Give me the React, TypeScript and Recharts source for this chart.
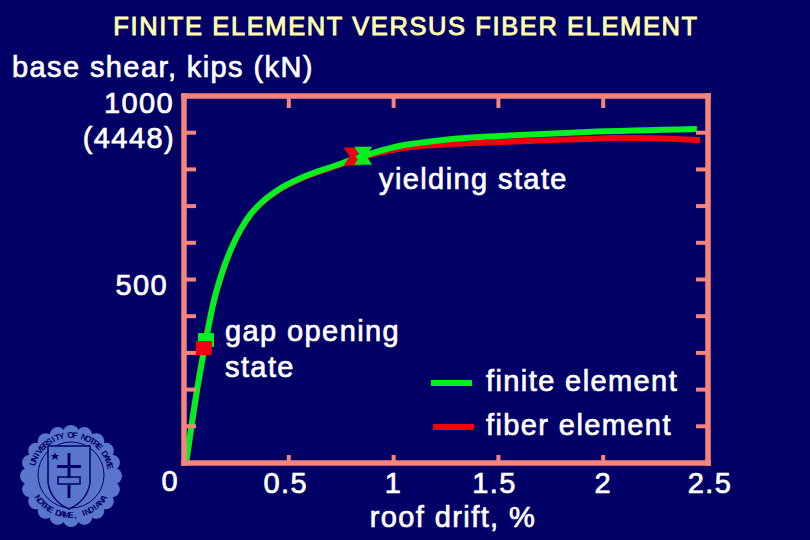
import { LineChart, Line, XAxis, YAxis, ReferenceDot, Legend } from 'recharts';

const finiteElement = [
  { x: 0.01, y: 0 }, { x: 0.052, y: 163 }, { x: 0.105, y: 335 }, { x: 0.138, y: 431 },
  { x: 0.186, y: 526 }, { x: 0.229, y: 589 }, { x: 0.272, y: 638 }, { x: 0.315, y: 676 },
  { x: 0.372, y: 711 }, { x: 0.448, y: 744 }, { x: 0.568, y: 779 }, { x: 0.73, y: 812 },
  { x: 0.84, y: 834 }, { x: 1.045, y: 866 }, { x: 1.12, y: 872 }, { x: 1.283, y: 883 },
  { x: 1.603, y: 894 }, { x: 1.923, y: 902 }, { x: 2.447, y: 910 },
];
const fiberElement = [
  { x: 0.01, y: 0 }, { x: 0.052, y: 160 }, { x: 0.095, y: 313 }, { x: 0.138, y: 429 },
  { x: 0.186, y: 524 }, { x: 0.229, y: 587 }, { x: 0.272, y: 636 }, { x: 0.315, y: 674 },
  { x: 0.372, y: 709 }, { x: 0.448, y: 742 }, { x: 0.568, y: 777 }, { x: 0.73, y: 810 },
  { x: 0.8, y: 824 }, { x: 1.045, y: 858 }, { x: 1.283, y: 869 }, { x: 1.603, y: 877 },
  { x: 1.923, y: 883 }, { x: 2.08, y: 886 }, { x: 2.462, y: 880 },
];

const xTicks = [0.5, 1, 1.5, 2, 2.5];
const xMarks = [0.5, 1, 1.5, 2];
const yMarks = [100, 200, 300, 400, 500, 600, 700, 800, 900];
const yTicks = [0, 500, 1000];
const axisAnchor = [{ x: 0, y: 0 }, { x: 2.5, y: 1000 }];
const gapFinite = { x: 0.105, y: 335 };
const gapFiber = { x: 0.095, y: 313 };
const yieldFinite = { x: 0.855, y: 837 };
const yieldFiber = { x: 0.805, y: 835 };

const BG = '#000066';
const FRAME = '#F4847C';
const GREEN = '#00F020';
const RED = '#F00010';
const WHITE = '#FFFFFF';
const SEAL = '#5A76CC';
const font = '"Liberation Sans", Arial, sans-serif';

const textStyle = { fontFamily: font, fontSize: 29, fill: WHITE, letterSpacing: 1.4, stroke: WHITE, strokeWidth: 0.7 };
// the slide's hand placed x labels sit a little off their ticks
const xLabelShift: Record<number, number> = { 0.5: -3, 1.5: -4, 2.5: 2 };

function NoTick() {
  return <g />;
}

function Square(props: any) {
  return <rect x={props.cx - 8} y={props.cy - 7} width={16} height={14} fill={props.fill} />;
}

function Hourglass(props: any) {
  const { cx, cy, fill } = props;
  return (
    <path
      d={`M${cx - 9} ${cy - 9}L${cx + 9} ${cy - 9}L${cx + 3} ${cy}L${cx + 9} ${cy + 9}L${cx - 9} ${cy + 9}L${cx - 3} ${cy}Z`}
      fill={fill}
    />
  );
}

function XLabel(props: any) {
  const { x, y, payload } = props;
  return (
    <text x={x + (xLabelShift[payload.value] ?? 0)} y={y + 22} textAnchor="middle" style={textStyle}>
      {payload.value}
    </text>
  );
}

function YLabel(props: any) {
  const { y, payload } = props;
  if (payload.value === 1000) {
    return (
      <g>
        <text x={174} y={y + 17} textAnchor="end" style={textStyle}>1000</text>
        <text x={175} y={y + 52} textAnchor="end" style={textStyle}>(4448)</text>
      </g>
    );
  }
  return (
    <text x={payload.value === 0 ? 179 : 168} y={payload.value === 0 ? y + 28 : y + 15} textAnchor="end" style={textStyle}>
      {payload.value}
    </text>
  );
}

function LegendRows(props: any) {
  const rows = [...(props.payload ?? [])].filter((r: any) => r.type !== 'none').reverse();
  return (
    <div style={{ width: 280 }}>
      {rows.map((r: any, i: number) => (
        <div key={r.value} style={{ display: 'flex', alignItems: 'center', height: 44 }}>
          <span style={{ width: 41, height: 6, marginLeft: i * 2, marginRight: 14 - i * 2, marginTop: 3, background: r.color }} />
          <span style={{ fontFamily: font, fontSize: 29, color: WHITE, letterSpacing: 1.4, WebkitTextStroke: '0.7px white' }}>{r.value}</span>
        </div>
      ))}
    </div>
  );
}

// one glyph per <text>, stepped round the ring
function ArcText({ chars, from, step, r }: { chars: string; from: number; step: number; r: number }) {
  return (
    <>
      {[...chars].map((c, i) => {
        const deg = from + step * i;
        const a = (deg * Math.PI) / 180;
        const x = 71 + r * Math.sin(a);
        const y = 475 - r * Math.cos(a);
        const turn = step > 0 ? deg : deg + 180;
        return (
          <text key={i} x={x} y={y} textAnchor="middle" fontFamily={font} fontSize={8.5} fontWeight="bold" fill={BG}
            transform={`rotate(${turn} ${x} ${y})`}>
            {c}
          </text>
        );
      })}
    </>
  );
}

function Seal() {
  // scalloped disc behind the crest
  const scallops = [...Array(20).keys()].map((i) => {
    const a = (i / 20) * Math.PI * 2;
    return <circle key={i} cx={71 + 43 * Math.cos(a)} cy={476 + 43 * Math.sin(a)} r={8} fill={SEAL} />;
  });
  return (
    <svg width={810} height={540} style={{ position: 'absolute', left: 0, top: 0 }}>
      {scallops}
      <circle cx={71} cy={476} r={46} fill={SEAL} />
      <circle cx={71} cy={475} r={33} fill="none" stroke={BG} strokeWidth={1} />
      <ArcText chars="UNIVERSITY OF NOTRE DAME" from={-72} step={6.5} r={37} />
      <ArcText chars="NOTRE DAME, INDIANA" from={235} step={-6.1} r={43} />
      <path d="M48 446L90 446L90 483Q87 501 69 509Q51 501 48 483Z" fill={SEAL} stroke={BG} strokeWidth={1.5} />
      <path d="M67.5 453H70.5V465H81V468H70.5V478H67.5V468H57V465H67.5Z" fill={BG} />
      <rect x={58} y={477} width={22} height={7} fill="none" stroke={BG} strokeWidth={1.5} />
      <rect x={67.5} y={485} width={3} height={13} fill={BG} />
      <path d="M55 452L56 455L59 455L57 457L58 460L55 458L52 460L53 457L51 455L54 455Z" fill={BG} />
    </svg>
  );
}

export default function App() {
  return (
    <div style={{ position: 'absolute', left: 0, top: 0, width: 810, height: 540, background: BG, overflow: 'hidden' }}>
      <Seal />
      <div style={{ position: 'absolute', left: 0, top: 0 }}>
        <LineChart width={810} height={540} margin={{ top: 96, right: 102, bottom: 0, left: 0 }}>
          <XAxis
            xAxisId={0}
            type="number"
            dataKey="x"
            domain={[0, 2.5]}
            ticks={xTicks}
            height={77}
            axisLine={false}
            tickLine={false}
            tick={<XLabel />}
            interval={0}
            allowDataOverflow
          />
          <XAxis xAxisId="bottom" type="number" dataKey="x" domain={[0, 2.5]} ticks={xMarks} mirror tickSize={8} tick={<NoTick />} interval={0}
            axisLine={{ stroke: FRAME, strokeWidth: 5.5, strokeLinecap: 'square' }} tickLine={{ stroke: FRAME, strokeWidth: 4 }} />
          <XAxis xAxisId="top" orientation="top" type="number" dataKey="x" domain={[0, 2.5]} ticks={xMarks} mirror tickSize={12} tick={<NoTick />} interval={0}
            axisLine={{ stroke: FRAME, strokeWidth: 5.5, strokeLinecap: 'square' }} tickLine={{ stroke: FRAME, strokeWidth: 4 }} />
          <YAxis
            yAxisId={0}
            type="number"
            domain={[0, 1000]}
            ticks={yTicks}
            width={184}
            axisLine={false}
            tickLine={false}
            tick={<YLabel />}
            interval={0}
            allowDataOverflow
          />
          <YAxis yAxisId="left" type="number" domain={[0, 1000]} ticks={yMarks} mirror tickSize={12} tick={<NoTick />} interval={0}
            axisLine={{ stroke: FRAME, strokeWidth: 5.5, strokeLinecap: 'square' }} tickLine={{ stroke: FRAME, strokeWidth: 4 }} />
          <YAxis yAxisId="right" orientation="right" type="number" domain={[0, 1000]} ticks={yMarks} mirror tickSize={12} tick={<NoTick />} interval={0}
            axisLine={{ stroke: FRAME, strokeWidth: 5.5, strokeLinecap: 'square' }} tickLine={{ stroke: FRAME, strokeWidth: 4 }} />

          {/* the frame axes need a series each before they draw their tick marks */}
          <Line data={axisAnchor} dataKey="y" xAxisId="bottom" yAxisId="left" stroke="none" dot={false} legendType="none" isAnimationActive={false} />
          <Line data={axisAnchor} dataKey="y" xAxisId="top" yAxisId="right" stroke="none" dot={false} legendType="none" isAnimationActive={false} />

          <ReferenceDot x={yieldFiber.x} y={yieldFiber.y} shape={<Hourglass />} fill={RED} stroke="none" ifOverflow="visible" />
          <Line data={fiberElement} dataKey="y" name="fiber element" stroke={RED} strokeWidth={6} dot={false} type="monotone" isAnimationActive={false} />
          <Line data={finiteElement} dataKey="y" name="finite element" stroke={GREEN} strokeWidth={6} dot={false} type="monotone" isAnimationActive={false} />
          <ReferenceDot x={yieldFinite.x} y={yieldFinite.y} shape={<Hourglass />} fill={GREEN} stroke="none" ifOverflow="visible" />
          <ReferenceDot x={gapFinite.x} y={gapFinite.y} shape={<Square />} fill={GREEN} stroke="none" ifOverflow="visible" />
          <ReferenceDot x={gapFiber.x} y={gapFiber.y} shape={<Square />} fill={RED} stroke="none" ifOverflow="visible" />

          <Legend
            layout="vertical"
            align="center"
            verticalAlign="middle"
            content={<LegendRows />}
            wrapperStyle={{ position: 'absolute', left: 431, top: 359, width: 280 }}
          />

          <text x={406} y={35} textAnchor="middle" style={{ ...textStyle, fontSize: 25.5, letterSpacing: 1.6, strokeWidth: 0.9, fill: '#FFFFB0', stroke: '#FFFFB0' }}>
            FINITE ELEMENT VERSUS FIBER ELEMENT
          </text>
          <text x={12} y={77} style={textStyle}>base shear, kips (kN)</text>
          <text x={379} y={189} style={textStyle}>yielding state</text>
          <text x={225} y={341} style={textStyle}>gap opening</text>
          <text x={225} y={377} style={textStyle}>state</text>
          <text x={453} y={527} textAnchor="middle" style={textStyle}>roof drift, %</text>
        </LineChart>
      </div>
    </div>
  );
}
